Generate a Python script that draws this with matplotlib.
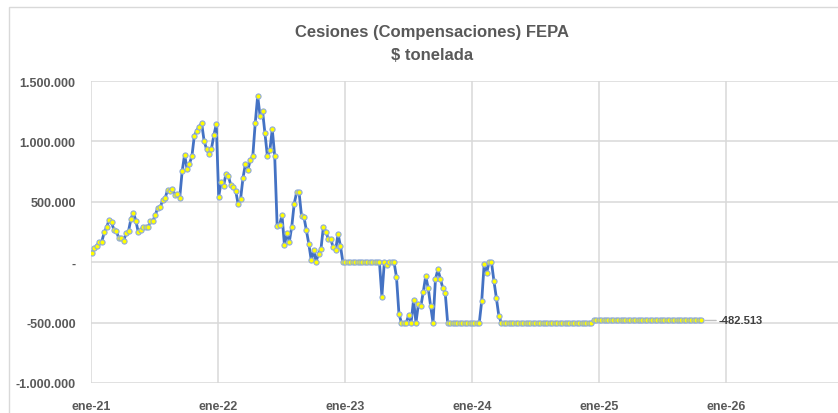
import numpy as np
import pandas as pd
import matplotlib
matplotlib.use("Agg")
import matplotlib.pyplot as plt
import matplotlib.dates as mdates
from matplotlib.patches import Rectangle
from matplotlib.ticker import FuncFormatter

# ---------------- data (weekly, $ / tonelada, in thousands) ----------------
start_date = "2021-01-04"
values_k = [
    80, 115, 137, 170, 170, 247, 290, 350, 329, 268,
    257, 197, 197, 178, 241, 260, 361, 411, 342, 247,
    266, 288, 288, 293, 337, 342, 392, 452, 455, 512,
    529, 597, 589, 608, 559, 562, 534, 753, 890, 773,
    816, 877, 1047, 1090, 1123, 1151, 1005, 937, 896, 937,
    1049, 1142, 542, 663, 630, 734, 712, 636, 622, 589,
    479, 526, 701, 816, 767, 849, 877, 1151, 1375, 1211,
    1252, 1068, 877, 926, 1101, 877, 301,
    312, 387, 140, 244, 170, 295, 484, 578, 578, 385,
    375, 263, 152, 16, 101, 5, 71, 112, 295, 252,
    195, 194, 122, 97, 235, 133, 0,
    0, 0, 0, 0, 0, 0, 0, 0, 0, 0, 0, 0, 0, 0, 0,
    -284, 0, -27, 0, 0, 0, -124, -425, -500, -500,
    -500, -440, -500, -313, -500, -346, -365, -245, -115, -212,
    -362, -500, -140, -60, -135, -212, -253, -500,
    -500, -500, -500, -500, -500, -500, -500, -500, -500, -500, -500, -500, -500,
    -320, -12, -90, 0, 0, -155, -295, -442,
    -500, -500, -500, -500, -500, -500, -500, -500, -500, -500,
    -500, -500, -500, -500, -500, -500, -500, -500, -500, -500,
    -500, -500, -500, -500, -500, -500, -500, -500, -500, -500,
    -500, -500, -500, -500, -500, -500, -500, -500,
    -482.513, -482.513, -482.513, -482.513, -482.513, -482.513, -482.513, -482.513, -482.513,
    -482.513, -482.513, -482.513, -482.513, -482.513, -482.513, -482.513, -482.513, -482.513,
    -482.513, -482.513, -482.513, -482.513, -482.513, -482.513, -482.513, -482.513, -482.513,
    -482.513, -482.513, -482.513, -482.513, -482.513, -482.513, -482.513, -482.513, -482.513,
    -482.513, -482.513, -482.513, -482.513, -482.513, -482.513, -482.513, -482.513, -482.513,
]
values = np.array(values_k) * 1000.0
dates = pd.date_range(start_date, periods=len(values), freq="7D")

year_ticks = ["2021-01-01", "2022-01-01", "2023-01-01", "2024-01-01", "2025-01-01", "2026-01-01"]
year_labels = ["ene-21", "ene-22", "ene-23", "ene-24", "ene-25", "ene-26"]
y_ticks = [-1000000, -500000, 0, 500000, 1000000, 1500000]
last_label = "-482.513"
title_1 = "Cesiones (Compensaciones) FEPA"
title_2 = "$ tonelada"

# ---------------- figure ----------------
W, H = 838, 414
fig = plt.figure(figsize=(W / 100, H / 100), dpi=100)
plt.rcParams["font.family"] = ["Liberation Sans", "DejaVu Sans"]
txt_col = "#595959"
grid_col = "#D9D9D9"

fig.patches.append(Rectangle((9 / W, -0.1), 2, (1 - 8 / H) + 0.1, transform=fig.transFigure,
                             fill=False, edgecolor=grid_col, linewidth=1.0))

ax = fig.add_axes([91 / W, 1 - 384 / H, (W - 91) / W + 0.01, (384 - 82) / H])

ax.plot(dates, values, color="#4472C4", linewidth=2.0, zorder=3,
        marker="o", markersize=3.7, markerfacecolor="#FFFF00",
        markeredgecolor="#8EA9DB", markeredgewidth=0.8)

ax.set_ylim(-1000000, 1500000)
ax.set_xlim(pd.Timestamp("2021-01-01"), pd.Timestamp("2026-12-12"))
ax.set_yticks(y_ticks)

def fmt(v, pos):
    if abs(v) < 1e-6:
        return "-"
    return f"{v:,.0f}".replace(",", ".")

ax.yaxis.set_major_formatter(FuncFormatter(fmt))
ax.set_xticks([pd.Timestamp(d) for d in year_ticks])
ax.set_xticklabels(year_labels)

for s in ax.spines.values():
    s.set_visible(False)
ax.grid(True, color=grid_col, linewidth=1.1, zorder=0)
ax.tick_params(axis="both", length=0, colors=txt_col, labelsize=9)
ax.tick_params(axis="y", pad=11)
ax.tick_params(axis="x", pad=12)
for lab in ax.get_xticklabels() + ax.get_yticklabels():
    lab.set_fontweight("bold")

ax.annotate(last_label, xy=(dates[-1], values[-1]), xytext=(18, 0),
            textcoords="offset pixels", ha="left", va="center",
            fontsize=8, fontweight="bold", color="#404040",
            arrowprops=dict(arrowstyle="-", color="#BFBFBF", linewidth=1,
                            shrinkA=0, shrinkB=3))

fig.text(432 / W, 1 - 33 / H, title_1, ha="center", va="center",
         fontsize=12, fontweight="bold", color=txt_col)
fig.text(432 / W, 1 - 56 / H, title_2, ha="center", va="center",
         fontsize=12, fontweight="bold", color=txt_col)

fig.savefig("out.png", dpi=100)
